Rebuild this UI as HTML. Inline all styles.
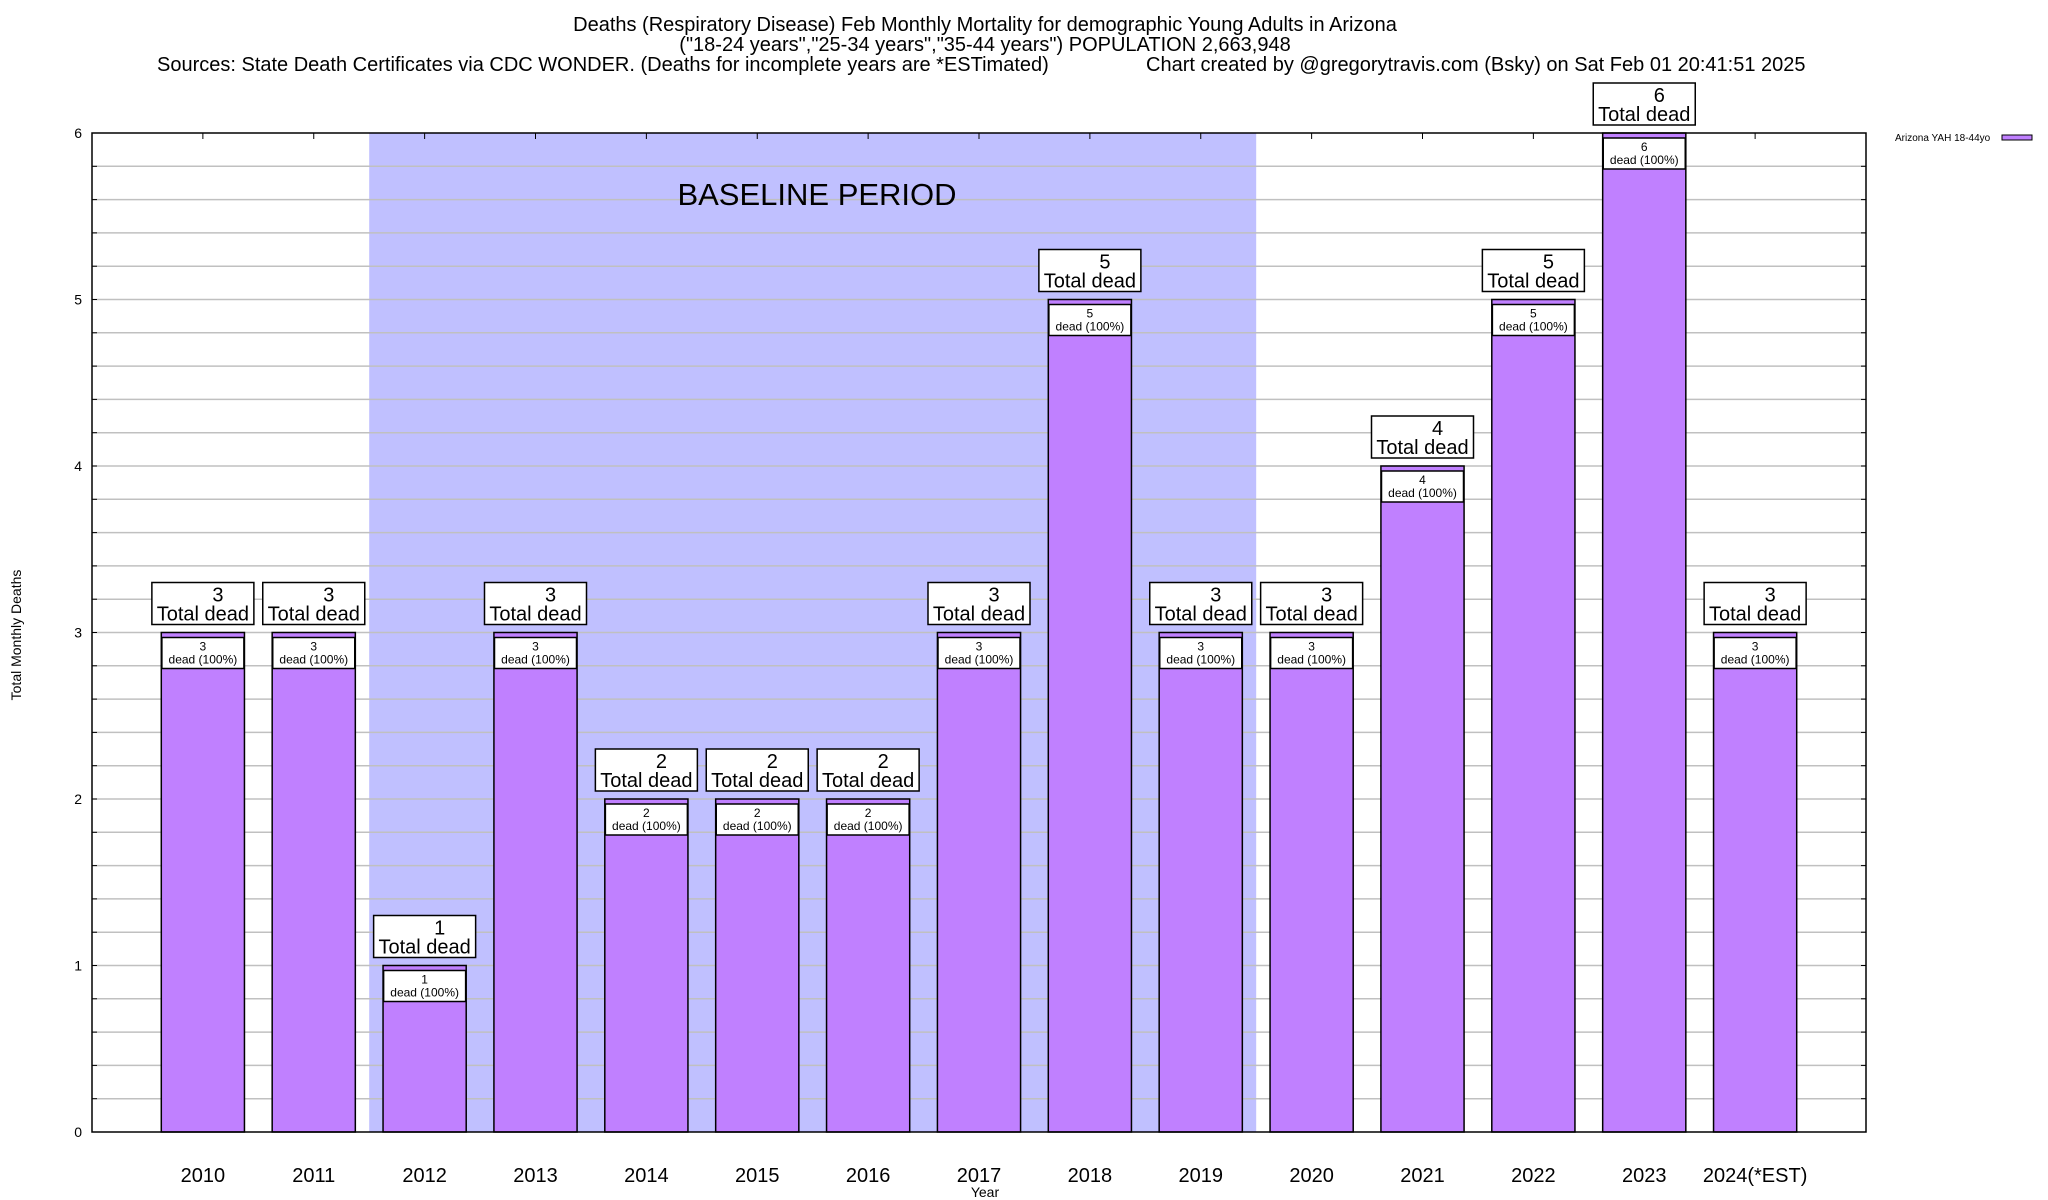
<!DOCTYPE html>
<html><head><meta charset="utf-8"><style>
html,body{margin:0;padding:0;background:#fff;}
svg{display:block;font-family:"Liberation Sans",sans-serif;}
</style></head><body>
<svg id="chart" width="2048" height="1200" viewBox="0 0 2048 1200">
<g font-size="20" fill="#000">
<text x="985" y="31" text-anchor="middle">Deaths (Respiratory Disease) Feb Monthly Mortality for demographic Young Adults in Arizona</text>
<text x="985" y="51" text-anchor="middle">("18-24 years","25-34 years","35-44 years") POPULATION 2,663,948</text>
<text x="157" y="71">Sources: State Death Certificates via CDC WONDER. (Deaths for incomplete years are *ESTimated)</text>
<text x="1146" y="71">Chart created by @gregorytravis.com (Bsky) on Sat Feb 01 20:41:51 2025</text>
</g>
<g id="plot"></g>
<text x="985" y="1197" font-size="14" text-anchor="middle">Year</text>
<text x="21" y="635" font-size="14" text-anchor="middle" transform="rotate(-90 21 635)">Total Monthly Deaths</text>
<g>
<text x="1895" y="141" font-size="10">Arizona YAH 18-44yo</text>
<rect x="2002" y="135" width="30" height="5" fill="#c080ff" stroke="#000" stroke-width="1"/>
</g>
</svg>
<script>
const categories = ["2010","2011","2012","2013","2014","2015","2016","2017","2018","2019","2020","2021","2022","2023","2024(*EST)"];
const deaths = [3,3,1,3,2,2,2,3,5,3,3,4,5,6,3];
const yTicks = [0,1,2,3,4,5,6];
const baselineStart = 1.5, baselineEnd = 9.5;

const L=92,R=1866,T=133,B=1132,XMIN=-1,XMAX=15,YMAX=6;
const xs=v=>L+(v-XMIN)/(XMAX-XMIN)*(R-L);
const ys=v=>B-v/YMAX*(B-T);
const NS="http://www.w3.org/2000/svg";
const g=document.getElementById('plot');
function mk(tag,attrs,parent,text){const e=document.createElementNS(NS,tag);for(const k in attrs)e.setAttribute(k,attrs[k]);if(text!==undefined)e.textContent=text;(parent||g).appendChild(e);return e;}

const shade=mk('rect',{x:xs(baselineStart),y:T,width:xs(baselineEnd)-xs(baselineStart),height:B-T,fill:'#c0c0ff'});



for(let v=0.2;v<YMAX-0.01;v+=0.2){
  const y=ys(v);
  const gl=mk('line',{x1:L,x2:R,y1:y,y2:y,stroke:'#c0c0c0','stroke-width':1.5});
  
  
  mk('line',{x1:L,x2:L+5,y1:y,y2:y,stroke:'#000'});
  mk('line',{x1:R-5,x2:R,y1:y,y2:y,stroke:'#000'});
}
const bl=mk('text',{x:817,y:205,'font-size':31,'text-anchor':'middle'},g,'BASELINE PERIOD');


yTicks.forEach(t=>{
  const tl=mk('text',{x:82,y:ys(t)+5,'font-size':14,'text-anchor':'end'},g,String(t));
  
  
});
categories.forEach((c,i)=>{
  const cx=xs(i);
  mk('line',{x1:cx,x2:cx,y1:T,y2:T+6,stroke:'#000'});
  const xl=mk('text',{x:cx,y:1182,'font-size':20,'text-anchor':'middle'},g,c);
  
  
  const v=deaths[i], bw=(xs(0.75)-xs(0));
  const bar=mk('rect',{x:cx-bw/2,y:ys(v),width:bw,height:B-ys(v),fill:'#c080ff',stroke:'#000','stroke-width':1.5});
  
  
  const top=ys(v);
  const ib=mk('rect',{x:cx-41,y:top+5,width:82,height:31,fill:'#fff',stroke:'#000','stroke-width':1.5});
  
  
  mk('text',{x:cx,y:top+18,'font-size':12,'text-anchor':'middle'},g,String(v));
  mk('text',{x:cx,y:top+31,'font-size':12,'text-anchor':'middle'},g,'dead (100%)');
  const ob=mk('rect',{x:cx-51,y:top-50,width:102,height:42,fill:'#fff',stroke:'#000','stroke-width':1.5});
  
  
  mk('text',{x:cx+15,y:top-31,'font-size':20,'text-anchor':'middle'},g,String(v));
  mk('text',{x:cx,y:top-12,'font-size':20,'text-anchor':'middle'},g,'Total dead');
});
const frame=mk('rect',{x:L,y:T,width:R-L,height:B-T,fill:'none',stroke:'#000','stroke-width':1.5});


</script>
</body></html>
